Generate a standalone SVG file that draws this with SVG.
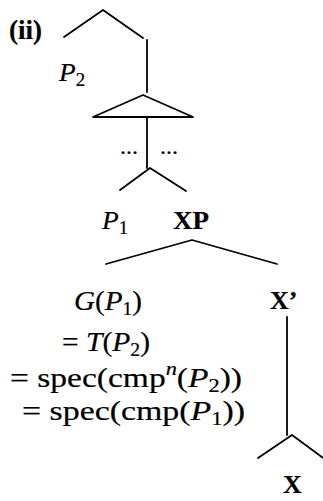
<svg xmlns="http://www.w3.org/2000/svg" width="323" height="501" viewBox="0 0 323 501">
<style>
text{font-family:"Liberation Serif","Times New Roman",serif;font-size:26px;fill:#000;stroke:#000;stroke-width:0.2}
.b{font-weight:bold}
.i{font-style:italic}
.sub{font-size:18px;font-style:normal}
.sup{font-size:18px;font-style:italic}
.big{font-size:27px}
.e{stroke:#000;stroke-width:1.8;fill:none;stroke-linecap:round;stroke-linejoin:round}
</style>
<rect width="323" height="501" fill="#fff"/>
<g id="connectors" class="e">
<polyline points="64,37 103,10 143,38"/>
<line x1="147" y1="40" x2="147" y2="92"/>
<polygon points="143,95 93,117 193,117"/>
<line x1="147" y1="117" x2="147" y2="168"/>
<polyline points="120,190 150,168 186,191"/>
<polyline points="106,264 192,240 277,264"/>
<line x1="287" y1="317" x2="287" y2="435"/>
<polyline points="258,458 292,435 326,460"/>
</g>
<g id="label-ii"><text class="b" style="font-size:27px" x="9" y="39">(ii)</text></g>
<g id="node-P2"><text class="i" transform="translate(59,81) scale(1.05,1)">P<tspan class="sub" dy="5">2</tspan></text></g>
<g id="node-dots"><text style="font-size:24px" transform="translate(120,154)">...</text><text style="font-size:24px" transform="translate(160,154)">...</text></g>
<g id="node-P1"><text class="i" transform="translate(102,229) scale(1.05,1)">P<tspan class="sub" dy="5">1</tspan></text></g>
<g id="node-XP"><text class="b" transform="translate(173,229) scale(1.04,1)">XP</text></g>
<g id="node-spec">
<text class="big" x="74" y="310" textLength="68" lengthAdjust="spacingAndGlyphs"><tspan class="i">G</tspan>(<tspan class="i">P</tspan><tspan class="sub" dy="5">1</tspan><tspan dy="-5">)</tspan></text>
<text class="big" x="62" y="351" textLength="88" lengthAdjust="spacingAndGlyphs">= <tspan class="i">T</tspan>(<tspan class="i">P</tspan><tspan class="sub" dy="5">2</tspan><tspan dy="-5">)</tspan></text>
<text class="big" x="10" y="387" textLength="232" lengthAdjust="spacingAndGlyphs">= spec(cmp<tspan class="sup" dy="-12">n</tspan><tspan dy="12">(</tspan><tspan class="i">P</tspan><tspan class="sub" dy="5">2</tspan><tspan dy="-5">))</tspan></text>
<text class="big" x="22" y="420" textLength="223" lengthAdjust="spacingAndGlyphs">= spec(cmp(<tspan class="i">P</tspan><tspan class="sub" dy="5">1</tspan><tspan dy="-5">))</tspan></text>
</g>
<g id="node-Xbar"><text class="b" transform="translate(270,309)">X’</text></g>
<g id="node-X"><text class="b" transform="translate(283,493)">X</text></g>
</svg>
